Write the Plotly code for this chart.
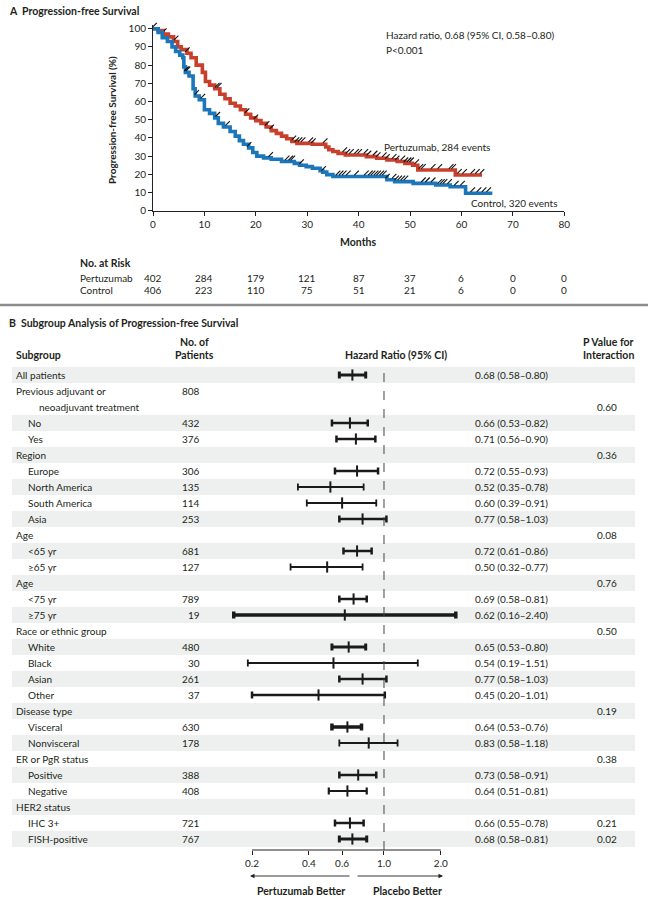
import numpy as np
import plotly.graph_objects as go

W, H = 648, 900
def X(px): return px / W
def Y(py): return 1 - py / H

FONT = "Lato"
TXT = "#231f20"
RED = "#c8402b"
BLUE = "#1b76ba"

# ---------------- Panel A data ----------------
pertuzumab_t = [0, 1, 2, 3, 4, 4.8, 5.5, 6.6, 7.4, 8.4, 9.6, 10.2, 11, 12, 13, 14, 15, 16, 17, 18,
                19, 20, 21, 22, 23, 24, 25, 26, 27, 28, 31, 33.6, 34.2, 35, 36, 37.4, 41.5, 43.5,
                45.5, 47.5, 49, 50.5, 51.5, 58.8]
pertuzumab_s = [100, 99, 97, 95.5, 93, 90, 88.5, 86.5, 84, 80, 76, 71, 69, 67, 64, 61.5, 59, 57.5, 55.5, 53,
                51, 49.5, 48, 46, 44, 42.5, 41, 39.5, 38, 37, 36.5, 35, 33.5, 32.5, 31.5, 30.6, 29.7, 28.8,
                27.9, 27, 26, 25, 22.4, 19.6]
pertuzumab_end = 64.0

control_t = [0, 1, 1.8, 2.8, 3.7, 4.4, 5.2, 5.8, 6.0, 6.3, 7.0, 7.8, 8.2, 9.0, 10.0, 11.0, 12.0, 12.7,
             13.7, 15.0, 16.0, 16.8, 17.6, 18.6, 19.4, 20.2, 21.5, 23.0, 25.0, 27.5, 28.5, 29.8, 31.0,
             32.5, 33.0, 33.8, 35.0, 45.5, 47.0, 50.6, 55.0, 57.8, 60.8]
control_s = [100, 98, 95, 93, 90, 87.5, 85.5, 84, 79, 76, 74, 67, 63, 61, 55.5, 53.5, 51, 48,
             46, 43.5, 41, 38.5, 36.5, 34.5, 32, 30, 29, 28.3, 27, 26, 25, 24.2, 23.3,
             22, 21.2, 19.8, 18.8, 17, 16, 15, 14.1, 13.2, 9.6]
control_end = 66.0

pertuzumab_censor = [0.3, 2.2, 4.5, 6.7, 12.5, 12.9, 18.3, 20.0, 22.2, 23.1, 27.4, 28.0, 28.6,
                     29.2, 30.7, 31.2, 33.5, 37.3, 37.9, 38.6, 39.6, 40.2, 41.4, 42.0,
                     43.2, 43.8, 45.0, 45.6, 46.9, 47.5, 48.6, 49.2, 49.8, 50.3,
                     51.3, 52.1, 52.6, 54.5, 55.8, 58.0, 58.5, 59.6, 60.6, 62.2, 63.1, 64.0]
control_censor = [6.5, 6.8, 8.5, 9.7, 12.6, 14.5, 18.7, 22.9, 26.1, 26.8, 27.2, 28.9, 33.2,
                  36.0, 36.6, 37.2, 38.0, 39.6, 41.5, 42.3, 42.8, 43.4, 43.9, 44.5, 45.0, 45.6,
                  46.9, 47.4, 48.0, 48.6, 49.2, 52.6, 53.4, 54.5, 55.8, 56.3, 56.8, 57.7,
                  59.0, 60.2, 62.2, 63.4, 64.4, 65.3]

month_ticks = [0, 10, 20, 30, 40, 50, 60, 70, 80]
surv_ticks = list(range(0, 101, 10))
risk_pertuzumab = [402, 284, 179, 121, 87, 37, 6, 0, 0]
risk_control = [406, 223, 110, 75, 51, 21, 6, 0, 0]

# ---------------- Panel B data ----------------
sub_labels = ["All patients", "Previous adjuvant or", "neoadjuvant treatment", "No", "Yes", "Region",
              "Europe", "North America", "South America", "Asia", "Age", "<65 yr", "\u226565 yr", "Age",
              "<75 yr", "\u226575 yr", "Race or ethnic group", "White", "Black", "Asian", "Other",
              "Disease type", "Visceral", "Nonvisceral", "ER or PgR status", "Positive", "Negative",
              "HER2 status", "IHC 3+", "FISH-positive"]
sub_level = [0, 0, 2, 1, 1, 0, 1, 1, 1, 1, 0, 1, 1, 0, 1, 1, 0, 1, 1, 1, 1, 0, 1, 1, 0, 1, 1, 0, 1, 1]
n_patients = ["", "808", "", "432", "376", "", "306", "135", "114", "253", "", "681", "127", "",
              "789", "19", "", "480", "30", "261", "37", "", "630", "178", "", "388", "408", "",
              "721", "767"]
hr = [0.68, None, None, 0.66, 0.71, None, 0.72, 0.52, 0.60, 0.77, None, 0.72, 0.50, None, 0.69, 0.62,
      None, 0.65, 0.54, 0.77, 0.45, None, 0.64, 0.83, None, 0.73, 0.64, None, 0.66, 0.68]
hr_lo = [0.58, None, None, 0.53, 0.56, None, 0.55, 0.35, 0.39, 0.58, None, 0.61, 0.32, None, 0.58, 0.16,
         None, 0.53, 0.19, 0.58, 0.20, None, 0.53, 0.58, None, 0.58, 0.51, None, 0.55, 0.58]
hr_hi = [0.80, None, None, 0.82, 0.90, None, 0.93, 0.78, 0.91, 1.03, None, 0.86, 0.77, None, 0.81, 2.40,
         None, 0.80, 1.51, 1.03, 1.01, None, 0.76, 1.18, None, 0.91, 0.81, None, 0.78, 0.81]
p_interaction = ["", "", "0.60", "", "", "0.36", "", "", "", "", "0.08", "", "", "0.76", "", "",
                 "0.50", "", "", "", "", "0.19", "", "", "0.38", "", "", "", "0.21", "0.02"]
hr_ticks = [0.2, 0.4, 0.6, 1.0, 2.0]
hr_ticktext = ["0.2", "0.4", "0.6", "1.0", "2.0"]
axis_span = [0.2, 2.0]

# styles (not data)
bar_width = [3, 0, 0, 2.5, 2.5, 0, 2.5, 1.8, 1.8, 2.5, 0, 2.5, 1.8, 0, 2.5, 3.5,
             0, 3, 1.8, 2.5, 2.5, 0, 3.5, 1.8, 0, 2.5, 2.2, 0, 2.5, 3]

fig = go.Figure()

# ---- KM curves ----
def step_val(ts, ss, c):
    i = int(np.searchsorted(np.array(ts), c, side="right")) - 1
    return ss[max(i, 0)]

for ts, ss, end, col, cens in [(pertuzumab_t, pertuzumab_s, pertuzumab_end, RED, pertuzumab_censor),
                               (control_t, control_s, control_end, BLUE, control_censor)]:
    fig.add_trace(go.Scatter(x=list(ts) + [end], y=list(ss) + [ss[-1]], mode="lines",
                             line=dict(color=col, width=3.6, shape="hv"),
                             xaxis="x", yaxis="y", showlegend=False, hoverinfo="skip"))
    fig.add_trace(go.Scatter(x=cens, y=[step_val(ts, ss, c) + 2.0 for c in cens], mode="markers",
                             marker=dict(symbol="line-ne", size=4.5, color="#111",
                                         line=dict(color="#111", width=1.1)),
                             cliponaxis=False, xaxis="x", yaxis="y", showlegend=False,
                             hoverinfo="skip"))

# ---- Forest plot ----
rows = list(range(len(sub_labels)))
for r in rows:
    if hr[r] is None:
        continue
    fig.add_trace(go.Scatter(
        x=[hr[r]], y=[r], mode="markers", xaxis="x2", yaxis="y2", showlegend=False,
        hoverinfo="skip", cliponaxis=False,
        marker=dict(symbol="line-ns", size=8, color="#1a1a1a", line=dict(color="#1a1a1a", width=2)),
        error_x=dict(type="data", symmetric=False, array=[hr_hi[r] - hr[r]],
                     arrayminus=[hr[r] - hr_lo[r]], color="#1a1a1a",
                     thickness=bar_width[r], width=3.5)))

shapes = []
entry = -1
for r in rows:
    if sub_level[r] != 2:
        entry += 1
    if entry % 2 == 0:
        shapes.append(dict(type="rect", xref="paper", yref="y2", x0=X(12), x1=X(635),
                           y0=r - 0.5, y1=r + 0.5, fillcolor="#edf0ee", line=dict(width=0),
                           layer="below"))
shapes.append(dict(type="line", xref="x2", yref="paper", x0=1.0, x1=1.0, y0=Y(850), y1=Y(364),
                   line=dict(color="#444", width=1, dash="dash")))
shapes.append(dict(type="line", xref="x2", yref="paper", x0=axis_span[0], x1=axis_span[1],
                   y0=Y(850), y1=Y(850), line=dict(color="#222", width=1)))
shapes.append(dict(type="line", xref="paper", yref="paper", x0=0, x1=1, y0=Y(305), y1=Y(305),
                   line=dict(color="#8c8c8c", width=2.5)))

ann = []
def T(x, y, text, size=10, bold=False, xanchor="left", xref="paper", yref="paper", color=TXT, **kw):
    if bold:
        text = "<b>" + text + "</b>"
    ann.append(dict(x=x, y=y, xref=xref, yref=yref, text=text, showarrow=False, xanchor=xanchor,
                    yanchor="middle", font=dict(family=FONT, size=size, color=color), **kw))

FS = 10
T(X(7), Y(11), "A  Progression-free Survival", size=10.5, bold=True)
T(X(112), Y(120), "Progression-free Survival (%)", size=10, bold=True, xanchor="center", textangle=-90)
T(X(384), Y(35), "Hazard ratio, 0.68 (95% CI, 0.58\u20130.80)", size=FS)
T(X(384), Y(50), "P<0.001", size=FS)
T(X(382), Y(147), "Pertuzumab, 284 events", size=FS)
T(X(469), Y(203), "Control, 320 events", size=FS)
T(X(358), Y(242), "Months", size=10.5, bold=True, xanchor="center")
T(X(78), Y(263), "No. at Risk", size=10.5, bold=True)
T(X(78), Y(277.5), "Pertuzumab", size=FS)
T(X(78), Y(289.5), "Control", size=FS)
for m, a, b in zip(month_ticks, risk_pertuzumab, risk_control):
    T(m, Y(277.5), str(a), size=FS, xanchor="center", xref="x")
    T(m, Y(289.5), str(b), size=FS, xanchor="center", xref="x")

T(X(7), Y(323), "B  Subgroup Analysis of Progression-free Survival", size=10.5, bold=True)
T(X(14), Y(355), "Subgroup", size=10.5, bold=True)
T(X(194), Y(342), "No. of", size=10.5, bold=True, xanchor="center")
T(X(194), Y(355), "Patients", size=10.5, bold=True, xanchor="center")
T(X(396), Y(355), "Hazard Ratio (95% CI)", size=10.5, bold=True, xanchor="center")
T(X(608), Y(342), "P Value for", size=10.5, bold=True, xanchor="center")
T(X(608), Y(355), "Interaction", size=10.5, bold=True, xanchor="center")
indent_px = {0: 14, 1: 26, 2: 36.5}
for r in rows:
    T(X(indent_px[sub_level[r]]), r, sub_labels[r], size=FS, yref="y2")
    if n_patients[r]:
        T(X(202), r, n_patients[r], size=FS, xanchor="right", yref="y2")
    if hr[r] is not None:
        T(X(473), r, f"{hr[r]:.2f} ({hr_lo[r]:.2f}\u2013{hr_hi[r]:.2f})", size=FS, yref="y2")
    if p_interaction[r]:
        T(X(607), r, p_interaction[r], size=FS, xanchor="center", yref="y2")

T(X(301), Y(891), "Pertuzumab Better", size=10.5, bold=True, xanchor="center")
T(X(407), Y(891), "Placebo Better", size=10.5, bold=True, xanchor="center")
ann.append(dict(x=X(250), y=Y(876), xref="paper", yref="paper", ax=101, ay=0, text="",
                showarrow=True, arrowhead=2, arrowsize=1, arrowwidth=0.9, arrowcolor="#222"))
ann.append(dict(x=X(443), y=Y(876), xref="paper", yref="paper", ax=-87, ay=0, text="",
                showarrow=True, arrowhead=2, arrowsize=1, arrowwidth=0.9, arrowcolor="#222"))

km_y_lo, km_y_hi = 0, 102
lg_lo, lg_hi = np.log10(0.14), np.log10(2.7)
px_per_dec = 82 * np.log(10)
fx0 = 384 + px_per_dec * lg_lo
fx1 = 384 + px_per_dec * lg_hi

fig.update_layout(
    width=W, height=H, margin=dict(l=0, r=0, t=0, b=0, autoexpand=False),
    paper_bgcolor="white", plot_bgcolor="rgba(0,0,0,0)",
    font=dict(family=FONT, size=10, color=TXT),
    showlegend=False,
    xaxis=dict(domain=[X(153), X(564.3)], range=[0, 80], tickvals=month_ticks, ticks="outside",
               ticklen=4, tickwidth=1, tickcolor="#222", showline=True, linecolor="#222", linewidth=1,
               showgrid=False, zeroline=False, anchor="y", tickfont=dict(size=10, color=TXT)),
    yaxis=dict(domain=[Y(210.7), Y(210.7 - 1.82 * km_y_hi)], range=[km_y_lo, km_y_hi],
               tickvals=surv_ticks, ticks="outside", ticklen=4, tickwidth=1, tickcolor="#222",
               showline=True, linecolor="#222", linewidth=1, showgrid=False, zeroline=False,
               anchor="x", tickfont=dict(size=10, color=TXT)),
    xaxis2=dict(type="log", domain=[X(fx0), X(fx1)], range=[lg_lo, lg_hi], tickvals=hr_ticks,
                ticktext=hr_ticktext, ticks="outside", ticklen=4, tickwidth=1, tickcolor="#222",
                showline=False, showgrid=False, zeroline=False, anchor="free", position=Y(850),
                tickfont=dict(size=10, color=TXT)),
    yaxis2=dict(domain=[Y(847), Y(367)], range=[len(sub_labels) - 0.5, -0.5], visible=False,
                anchor="x2", showgrid=False, zeroline=False),
    shapes=shapes, annotations=ann,
)

fig.write_html("out.html", config={"displayModeBar": False},
               post_script="document.body.style.margin='0';")
